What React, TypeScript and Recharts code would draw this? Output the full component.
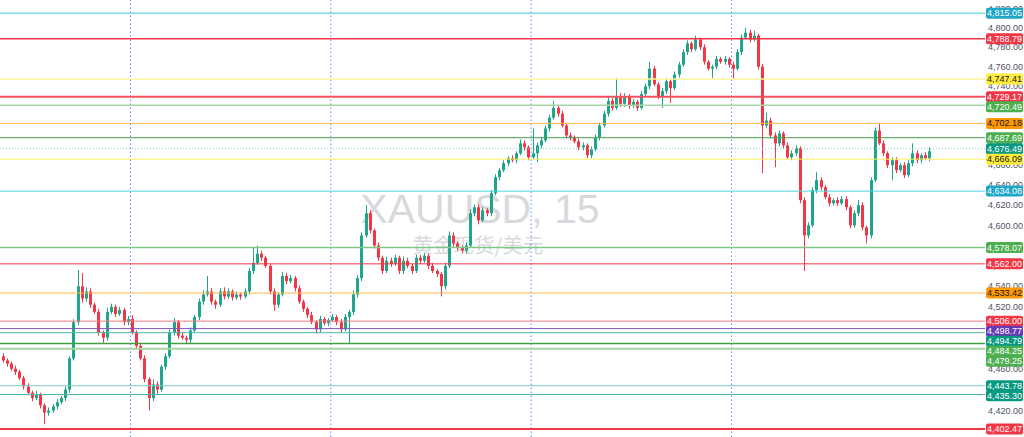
import { ComposedChart, Bar, XAxis, YAxis, ReferenceLine } from "recharts";

// XAUUSD 15m, one candle per ~30 min
const firstOpen = 4472;

const closes = [
  4468, 4465, 4460, 4457, 4451, 4443, 4437, 4432, 4435, 4425,
  4418, 4420, 4424, 4428, 4432, 4440, 4470, 4505, 4540, 4528,
  4535, 4522, 4515, 4495, 4490, 4515, 4520, 4513, 4517, 4505,
  4508, 4495, 4482, 4470, 4450, 4432, 4445, 4440, 4462, 4472,
  4495, 4505, 4492, 4490, 4488, 4497, 4510, 4525, 4532, 4535,
  4525, 4522, 4535, 4530, 4535, 4529, 4532, 4530, 4535, 4555,
  4563, 4572, 4568, 4560, 4535, 4522, 4532, 4550, 4545, 4548,
  4538, 4525, 4518, 4512, 4505, 4498, 4508, 4504, 4507, 4510,
  4505, 4498, 4510, 4515, 4532, 4548, 4590, 4612, 4595, 4580,
  4568, 4555, 4565, 4562, 4568, 4555, 4565, 4560, 4555, 4568,
  4565, 4570, 4560, 4555, 4552, 4540, 4560, 4590, 4582, 4578,
  4575, 4580, 4612, 4618, 4605, 4615, 4612, 4632, 4648, 4655,
  4662, 4667, 4665, 4672, 4682, 4678, 4668, 4672, 4680, 4685,
  4697, 4708, 4718, 4712, 4700, 4690, 4688, 4684, 4678, 4680,
  4670, 4676, 4688, 4700, 4712, 4725, 4718, 4730, 4722, 4730,
  4720, 4724, 4718, 4732, 4740, 4758, 4742, 4730, 4735, 4745,
  4738, 4752, 4762, 4775, 4784, 4778, 4788, 4780, 4765, 4758,
  4760, 4768, 4765, 4768, 4762, 4758, 4775, 4790, 4795, 4788,
  4792, 4760, 4700, 4705, 4690, 4682, 4692, 4680, 4668, 4672,
  4677, 4625, 4590, 4600, 4635, 4645, 4638, 4628, 4622, 4625,
  4622, 4626, 4618, 4600, 4612, 4620, 4598, 4590, 4645, 4695,
  4682, 4672, 4660, 4665, 4655, 4660, 4650, 4662, 4672, 4665,
  4670, 4667, 4674,
];

const wickUp = [
  3, 2, 2, 3, 2, 2, 3, 2, 4, 2,
  2, 3, 2, 3, 2, 3, 2, 3, 16, 13,
  4, 3, 2, 3, 2, 4, 3, 2, 3, 2,
  3, 4, 2, 2, 3, 2, 5, 3, 2, 3,
  3, 4, 2, 3, 2, 3, 2, 3, 4, 15,
  3, 2, 3, 4, 3, 2, 3, 2, 3, 3,
  15, 8, 3, 2, 2, 3, 2, 4, 3, 3,
  2, 3, 2, 2, 3, 2, 3, 2, 2, 3,
  2, 3, 3, 2, 4, 3, 3, 8, 3, 2,
  3, 2, 4, 3, 3, 2, 4, 3, 2, 3,
  3, 3, 2, 3, 2, 2, 3, 4, 3, 2,
  2, 3, 4, 3, 3, 3, 2, 3, 3, 2,
  3, 2, 3, 2, 4, 3, 2, 25, 3, 3,
  3, 3, 7, 2, 3, 2, 3, 2, 3, 3,
  2, 3, 3, 3, 3, 4, 3, 18, 3, 3,
  2, 3, 2, 3, 3, 7, 3, 2, 3, 3,
  2, 3, 3, 3, 3, 2, 4, 2, 3, 2,
  2, 3, 2, 3, 2, 3, 3, 3, 5, 3,
  5, 2, 3, 8, 3, 3, 3, 2, 3, 3,
  3, 2, 3, 3, 3, 8, 3, 2, 3, 2,
  3, 3, 3, 2, 3, 5, 3, 2, 3, 3,
  7, 3, 2, 3, 3, 2, 3, 3, 10, 3,
  2, 3, 4,
];

const wickDown = [
  2, 3, 2, 3, 2, 3, 2, 3, 2, 3,
  11, 3, 2, 3, 2, 3, 3, 2, 3, 4,
  3, 3, 2, 3, 5, 3, 2, 3, 2, 3,
  3, 2, 3, 2, 3, 12, 3, 4, 2, 3,
  2, 3, 3, 2, 4, 3, 2, 3, 3, 2,
  3, 4, 2, 3, 2, 3, 2, 3, 2, 3,
  3, 2, 3, 2, 3, 6, 3, 2, 3, 2,
  3, 2, 3, 3, 2, 4, 3, 2, 3, 2,
  3, 3, 2, 26, 3, 3, 3, 2, 3, 3,
  3, 3, 2, 3, 2, 3, 3, 2, 3, 2,
  3, 2, 3, 2, 3, 10, 3, 2, 3, 3,
  2, 3, 2, 3, 4, 2, 3, 3, 2, 3,
  2, 3, 2, 3, 2, 3, 3, 2, 9, 3,
  2, 3, 2, 3, 2, 3, 3, 2, 3, 3,
  3, 3, 2, 3, 2, 3, 3, 2, 3, 3,
  3, 2, 3, 2, 3, 3, 2, 3, 12, 3,
  15, 2, 3, 2, 3, 3, 2, 3, 3, 2,
  10, 3, 2, 3, 3, 10, 2, 3, 2, 3,
  2, 3, 48, 3, 3, 24, 3, 3, 2, 3,
  3, 3, 35, 3, 2, 3, 3, 2, 3, 2,
  3, 2, 3, 3, 2, 3, 3, 8, 3, 2,
  2, 3, 3, 15, 3, 2, 3, 2, 3, 3,
  3, 2, 3,
];

// horizontal price levels, top to bottom
const levels = [
  4815.05, 4788.79, 4747.41, 4729.17, 4720.49, 4702.18, 4687.69, 4676.49, 4666.09, 4634.08,
  4578.07, 4562.0, 4533.42, 4506.0, 4498.77, 4494.79, 4484.25, 4479.25, 4443.78, 4435.3, 4402.47,
];

// session separators (candle index units)
const dayBreaks = [30.76, 78.76, 126.76, 174.76];

const priceTicks = [
  4420, 4440, 4460, 4480, 4500, 4520, 4540, 4560, 4580, 4600,
  4620, 4640, 4660, 4680, 4700, 4720, 4740, 4760, 4780, 4800, 4820,
];

const UP = "#1ea58b";
const DOWN = "#f23645";
const FONT = "'Liberation Sans', Arial, sans-serif";
const Y_DOMAIN = [4394.9, 4828.9];
const CHART_H = 437;
const TAG_GAP = 10;

const levelStyles = [
  { line: "#80d8e4", tag: "#1ea7c8", text: "#fff", w: 1.5 },
  { line: "#f23645", tag: "#f23645", text: "#fff", w: 1.5 },
  { line: "#fff59d", tag: "#ffeb3b", text: "#131722", w: 1.5 },
  { line: "#f4525f", tag: "#f23645", text: "#fff", w: 2 },
  { line: "#a5d6a7", tag: "#4caf50", text: "#fff", w: 1.5 },
  { line: "#ffb74d", tag: "#ff9800", text: "#131722", w: 1 },
  { line: "#43a047", tag: "#4caf50", text: "#fff", w: 1 },
  { line: "#80cbc4", tag: "#089981", text: "#fff", w: 1, dash: "1 2" },
  { line: "#ffee58", tag: "#ffeb3b", text: "#131722", w: 1 },
  { line: "#4dd0e1", tag: "#1ea7c8", text: "#fff", w: 1 },
  { line: "#81c784", tag: "#4caf50", text: "#fff", w: 1.5 },
  { line: "#f23645", tag: "#f23645", text: "#fff", w: 1 },
  { line: "#ffb74d", tag: "#ff9800", text: "#131722", w: 1 },
  { line: "#f77c80", tag: "#f23645", text: "#fff", w: 1 },
  { line: "#7e57c2", tag: "#673ab7", text: "#fff", w: 1 },
  { line: "#4db6ac", tag: "#089981", text: "#fff", w: 1 },
  { line: "#43a047", tag: "#4caf50", text: "#fff", w: 1.5 },
  { line: "#a5d6a7", tag: "#4caf50", text: "#fff", w: 2 },
  { line: "#80cbc4", tag: "#089981", text: "#fff", w: 1 },
  { line: "#4db6ac", tag: "#089981", text: "#fff", w: 1 },
  { line: "#f23645", tag: "#f23645", text: "#fff", w: 2 },
];

const candles = closes.map((c, i) => {
  const o = i === 0 ? firstOpen : closes[i - 1];
  const high = Math.max(o, c) + wickUp[i];
  const low = Math.min(o, c) - wickDown[i];
  return { i, open: o, close: c, high, low, range: [low, high] };
});

// tags that would collide are pushed down, like the price scale does
const pxPerLog = CHART_H / Math.log(Y_DOMAIN[1] / Y_DOMAIN[0]);
const tagShift: number[] = [];
{
  let prev = -Infinity;
  levels.forEach((p, k) => {
    const natural = Math.log(Y_DOMAIN[1] / p) * pxPerLog;
    const placed = Math.max(natural, prev + TAG_GAP);
    tagShift[k] = placed - natural;
    prev = placed;
  });
}

const fmt = (v: number) =>
  v.toLocaleString("en-US", { minimumFractionDigits: 2, maximumFractionDigits: 2 });

function Candle(props: any) {
  const { x, y, width, height, payload } = props;
  if (!payload || !height) return null;
  const { open, close, high, low } = payload;
  const span = Math.log(high) - Math.log(low);
  const at = (p: number) => y + ((Math.log(high) - Math.log(p)) / span) * height;
  const color = close >= open ? UP : DOWN;
  const top = at(Math.max(open, close));
  const bot = at(Math.min(open, close));
  const cx = Math.round(x + width / 2) + 0.5;
  return (
    <g>
      <line x1={cx} x2={cx} y1={y} y2={y + height} stroke={color} strokeWidth={1} />
      <rect x={cx - width / 2} y={top} width={width} height={Math.max(bot - top, 1)} fill={color} />
    </g>
  );
}

// price tag on the scale, drawn by a second thin right axis so it sits above the tick labels
function PriceTag(props: any) {
  const { payload } = props;
  const k = levels.indexOf(payload.value);
  const s = levelStyles[k] || levelStyles[0];
  const y = props.y + (tagShift[k] || 0);
  return (
    <g>
      <rect x={986} y={y - 5.5} width={37} height={11} rx={2} fill={s.tag} />
      <text x={1004.5} y={y + 3.1} textAnchor="middle" fontSize={9} fontFamily={FONT} fill={s.text}>
        {fmt(payload.value)}
      </text>
    </g>
  );
}

function AxisTick(props: any) {
  const { y, payload } = props;
  return (
    <text x={988} y={y + 3.2} fontSize={9} fontFamily={FONT} fill="#50535e">
      {fmt(payload.value)}
    </text>
  );
}

export default function App() {
  return (
    <div style={{ position: "absolute", left: 0, top: 0, width: 1024, height: CHART_H, background: "#fff", overflow: "hidden" }}>
      {/* watermark */}
      <svg width={1024} height={CHART_H} style={{ position: "absolute", left: 0, top: 0 }}>
        <text x={480} y={223} textAnchor="middle" fontSize={41} fontFamily={FONT} fill="#d8d9dc">
          XAUUSD, 15
        </text>
        <text x={478} y={253} textAnchor="middle" fontSize={20.5} fontFamily="'Noto Sans CJK SC', sans-serif" fill="#d8d9dc">
          黄金现货/美元
        </text>
      </svg>
      <div style={{ position: "absolute", left: 0, top: 0 }}>
        <ComposedChart width={1024} height={CHART_H} data={candles} margin={{ top: 0, right: 0, bottom: 0, left: 0 }}>
          <XAxis dataKey="i" type="number" domain={[-0.5, 235.5]} hide />
          <YAxis
            yAxisId="price"
            orientation="right"
            width={38}
            scale="log"
            domain={Y_DOMAIN}
            allowDataOverflow
            ticks={priceTicks}
            tick={<AxisTick />}
            tickLine={false}
            axisLine={false}
            interval={0}
          />
          <YAxis
            yAxisId="tags"
            orientation="right"
            width={1}
            scale="log"
            domain={Y_DOMAIN}
            allowDataOverflow
            ticks={levels}
            tick={<PriceTag />}
            tickLine={false}
            axisLine={false}
            interval={0}
          />
          {dayBreaks.map((d) => (
            <ReferenceLine key={d} yAxisId="price" x={d} stroke="#2962ff" strokeOpacity={0.75} strokeDasharray="1.5 2.5" />
          ))}
          {levels.map((p, k) => (
            <ReferenceLine
              key={p}
              yAxisId="price"
              y={p}
              stroke={levelStyles[k].line}
              strokeWidth={levelStyles[k].w}
              strokeDasharray={levelStyles[k].dash}
            />
          ))}
          <Bar yAxisId="price" dataKey="range" barSize={3} shape={<Candle />} isAnimationActive={false} />
        </ComposedChart>
      </div>
    </div>
  );
}
